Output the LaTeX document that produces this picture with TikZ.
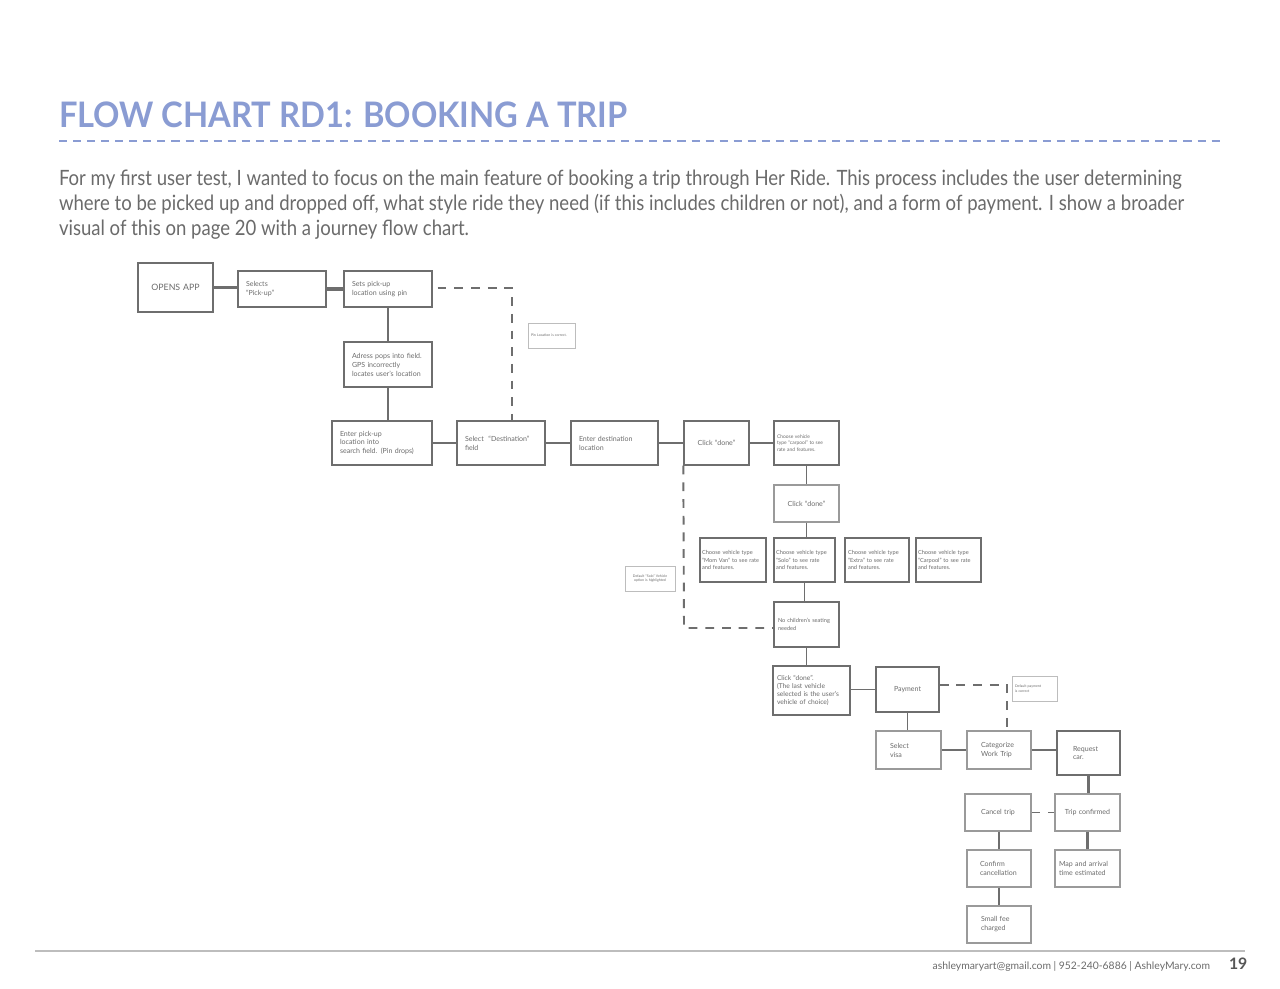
\documentclass[tikz,border=0pt]{standalone}
\usepackage{fontspec}
\setmainfont{Lato}
\newfontfamily\cuerpofont[FakeStretch=0.88]{Lato}
\newfontfamily\titulofont[FakeStretch=0.93]{Lato}
\usetikzlibrary{calc}
\definecolor{lavandaHR}{HTML}{8A9CD3}
\definecolor{grisTexto}{HTML}{6B6B6B}
\definecolor{grisCaja}{HTML}{6E6E6E}
\definecolor{grisSuave}{HTML}{9A9A9A}
\definecolor{grisNota}{HTML}{BDBDBD}
\newcommand{\upx}{0.02cm}
\hyphenpenalty=10000
\exhyphenpenalty=10000
\tikzset{
  caja/.style 2 args={draw=grisCaja,line width=.8pt,minimum width=#1*\upx,
    minimum height=#2*\upx,text width={(#1-16)*\upx},inner xsep=0pt,
    inner ysep=0pt,align=left,text=grisTexto,font=\fontsize{4}{5.1}\selectfont},
  suave/.style={draw=grisSuave,line width=.6pt},
  centro/.style={align=center},
  chico/.style={font=\fontsize{3.2}{4.3}\selectfont},
  mini/.style={font=\fontsize{2.8}{3.8}\selectfont},
  nota/.style 2 args={draw=grisNota,line width=.5pt,minimum width=#1*\upx,
    minimum height=#2*\upx,text width={(#1-6)*\upx},inner xsep=0pt,inner ysep=0pt,
    align=left,text=grisTexto,font=\fontsize{2}{2.7}\selectfont},
  texto/.style={inner sep=0pt,outer sep=0pt,text=grisTexto},
  enlace/.style={draw=grisCaja,line width=1.1pt},
  gruesa/.style={draw=grisCaja,line width=1.8pt},
  punteada/.style={draw=grisCaja,line width=1.1pt,dash pattern=on 5pt off 4.5pt}
}
\begin{document}
\begin{tikzpicture}[x=\upx,y=-\upx]
  \useasboundingbox[fill=white] (0,0) rectangle (1280,989);
  \node[texto,anchor=base west,text=lavandaHR,font=\titulofont\fontsize{20}{24}\selectfont\bfseries]
    (titulo) at (59,128) {FLOW CHART RD1: BOOKING A TRIP};
  \draw[lavandaHR,line width=1.1pt,dash pattern=on 4.6pt off 3.4pt] (59,141) -- (1220,141);
  \node[texto,anchor=base west,font=\cuerpofont\fontsize{12}{14}\selectfont] (cuerpoA) at (59,186)
    {For my first user test, I wanted to focus on the main feature of booking a trip through Her Ride. This process includes the user determining};
  \node[texto,anchor=base west,font=\cuerpofont\fontsize{12}{14}\selectfont] (cuerpoB) at (59,211)
    {where to be picked up and dropped off, what style ride they need (if this includes children or not), and a form of payment. I show a broader};
  \node[texto,anchor=base west,font=\cuerpofont\fontsize{12}{14}\selectfont] (cuerpoC) at (59,236)
    {visual of this on page 20 with a journey flow chart.};

  \node[caja={75}{49},centro,font=\fontsize{5}{6}\selectfont] (abre) at (175.5,287.5) {OPENS APP};
  \node[caja={88}{36}] (selecciona) at (282,289) {Selects\\``Pick-up''};
  \node[caja={88}{36}] (pin) at (388,289) {Sets pick-up\\location using pin};
  \node[caja={88}{45}] (direccion) at (388,364.5) {Adress pops into field.\\GPS incorrectly\\locates user's location};
  \node[caja={100}{44}] (recogida) at (382,443) {Enter pick-up\\location into\\search field. (Pin drops)};
  \node[caja={88}{44}] (destino) at (501,443) {Select~ ``Destination''\\field};
  \node[caja={87}{44}] (ingresa) at (614.5,443) {Enter destination\\location};
  \node[caja={65}{44},centro] (listoA) at (716.5,443) {Click ``done''};
  \node[caja={65}{44},mini,text width=59*\upx] (compartidoA) at (806.5,443) {Choose vehicle\\type ``carpool'' to see\\rate and features.};
  \node[caja={65}{37},suave,centro] (listoB) at (806.5,503.5) {Click ``done''};
  \node[caja={66}{44},chico,text width=62*\upx] (furgon) at (733,560) {Choose vehicle type\\``Mom Van'' to see rate\\and features.};
  \node[caja={61}{44},chico,text width=57*\upx] (solo) at (804.5,560) {Choose vehicle type\\``Solo'' to see rate\\and features.};
  \node[caja={64}{44},chico,text width=58*\upx] (extra) at (877,560) {Choose vehicle type\\``Extra'' to see rate\\and features.};
  \node[caja={65}{44},chico,text width=61*\upx] (compartidoB) at (948.5,560) {Choose vehicle type\\``Carpool'' to see rate\\and features.};
  \node[caja={65}{45},chico,text width=57*\upx] (ninos) at (806.5,624.5) {No children's seating\\needed};
  \node[caja={77}{49},text width=69*\upx,font=\fontsize{3.8}{4.5}\selectfont] (listoC) at (811.5,690.5)
    {Click ``done''.\\(The last vehicle\\selected is the user's\\vehicle of choice)};
  \node[caja={63}{45},centro] (pago) at (907.5,689.5) {Payment};
  \node[caja={65}{38},suave,text width=37*\upx] (visa) at (908.5,750) {Select\\visa};
  \node[caja={64}{38},suave,text width=36*\upx] (trabajo) at (999,750) {Categorize\\Work Trip};
  \node[caja={63}{44},text width=31*\upx] (pide) at (1088.5,753) {Request\\car.};
  \node[caja={66}{37},suave,centro] (cancela) at (998,812.5) {Cancel trip};
  \node[caja={65}{37},suave,centro,text width=59*\upx] (confirmado) at (1087.5,812.5) {Trip confirmed};
  \node[caja={64}{37},suave,text width=38*\upx] (anula) at (999,868.5) {Confirm\\cancellation};
  \node[caja={65}{37},suave,text width=57*\upx] (mapa) at (1087.5,868.5) {Map and arrival\\time estimated};
  \node[caja={64}{37},suave,text width=36*\upx] (tarifa) at (999,924.5) {Small fee\\charged};

  \node[nota={47}{25}] (pinok) at (551.5,335.5) {Pin Location is correct.};
  \node[nota={50}{25},centro] (solodef) at (650,578.5) {Default ``Solo'' Vehicle\\option is highlighted};
  \node[nota={45}{25}] (pagodef) at (1034.5,688.5) {Default payment\\is correct};

  \draw[gruesa] (abre.east) -- (abre.east -| selecciona.west);
  \draw[gruesa] (selecciona.east) -- (selecciona.east -| pin.west);
  \draw[enlace] (pin.south) -- (direccion.north);
  \draw[enlace] (direccion.south) -- (direccion.south |- recogida.north);
  \draw[enlace] (recogida.east) -- (destino.west);
  \draw[enlace] (destino.east) -- (ingresa.west);
  \draw[enlace] (ingresa.east) -- (listoA.west);
  \draw[enlace] (listoA.east) -- (compartidoA.west);
  \draw[enlace] (compartidoA.south) -- (listoB.north);
  \draw[enlace] (listoB.south) -- (listoB.south |- solo.north);
  \draw[enlace] (solo.south) -- (solo.south |- ninos.north);
  \draw[enlace] (ninos.south) -- (ninos.south |- listoC.north);
  \draw[enlace] (listoC.east |- pago.west) -- (pago.west);
  \draw[enlace] (pago.south) -- (pago.south |- visa.north);
  \draw[enlace] (visa.east) -- (trabajo.west);
  \draw[enlace] (trabajo.east) -- (trabajo.east -| pide.west);
  \draw[gruesa] (pide.south) -- (pide.south |- confirmado.north);
  \draw[gruesa] (confirmado.south) -- (mapa.north);
  \draw[enlace] (cancela.south -| anula.north) -- (anula.north);
  \draw[enlace] (anula.south) -- (tarifa.north);

  \coordinate (giroPin) at (512,288);
  \coordinate (giroNinos) at (684,628);
  \coordinate (giroPago) at (1007,685);
  \draw[punteada] ([xshift=5*\upx]pin.east |- giroPin) -- (giroPin) -- (giroPin |- destino.north);
  \draw[punteada] (listoA.south west) -- (giroNinos) -- (giroNinos -| ninos.west);
  \draw[punteada] (pago.east |- giroPago) -- (giroPago) -- (giroPago |- trabajo.north);
  \draw[punteada] (cancela.east) -- (confirmado.west);

  \draw[grisNota,line width=.6pt] (35,951) -- (1245,951);
  \node[texto,anchor=base east,font=\fontsize{5.9}{7}\selectfont] (pie) at (1210,969)
    {ashleymaryart@gmail.com | 952-240-6886 | AshleyMary.com};
  \node[texto,anchor=base west,text=grisTexto!80!black,font=\fontsize{9}{10}\selectfont\bfseries] (pagina) at (1229,969) {19};
\end{tikzpicture}
\end{document}
